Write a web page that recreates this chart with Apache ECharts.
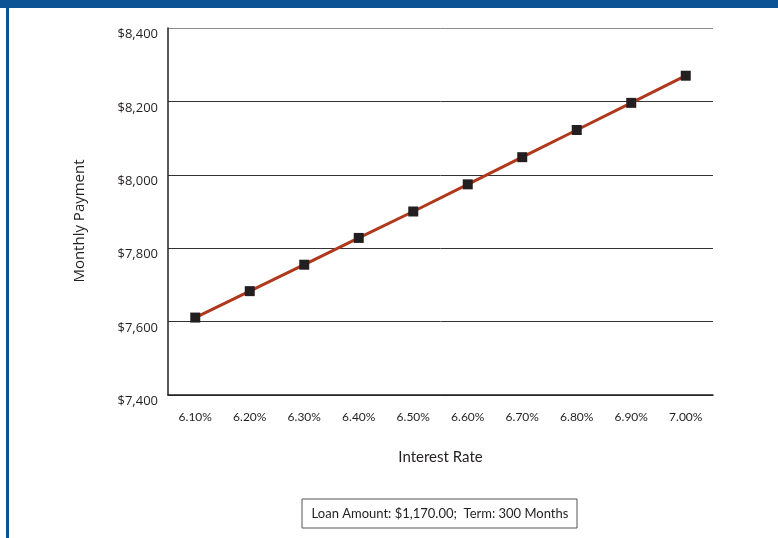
<!DOCTYPE html>
<html>
<head>
<meta charset="utf-8">
<script src="https://cdn.jsdelivr.net/npm/echarts@6/dist/echarts.min.js"></script>
<style>
  html, body { margin: 0; padding: 0; background: #fff; }
  #chart { width: 778px; height: 538px; }
</style>
</head>
<body>
<div id="chart"></div>
<script>
var rates = ['6.10%', '6.20%', '6.30%', '6.40%', '6.50%', '6.60%', '6.70%', '6.80%', '6.90%', '7.00%']
var payments = [7611, 7683, 7755, 7828, 7900, 7974, 8048, 8122, 8196, 8270]
var noteText = 'Loan Amount: $1,170.00;  Term: 300 Months'

var myChart = echarts.init(document.getElementById('chart'))

var option = {
  animation: false,
  grid: {
    left: 168,
    top: 28,
    right: 65,
    bottom: 143
  },
  xAxis: {
    type: 'category',
    data: rates,
    boundaryGap: true,
    name: 'Interest Rate',
    nameLocation: 'middle',
    nameGap: 55,
    nameTextStyle: {
      fontFamily: 'Lato',
      fontSize: 15,
      color: '#231f20'
    },
    axisLine: {
      lineStyle: { color: '#231f20', width: 1.5 }
    },
    axisTick: {
      inside: true,
      length: 10,
      lineStyle: { color: '#555', width: 1 }
    },
    axisLabel: {
      margin: 16,
      fontFamily: 'Lato',
      fontSize: 12,
      color: '#231f20'
    }
  },
  yAxis: {
    type: 'value',
    min: 7400,
    max: 8400,
    interval: 200,
    axisLine: {
      show: true,
      lineStyle: { color: '#231f20', width: 1.5 }
    },
    axisTick: { show: false },
    axisLabel: {
      margin: 10,
      fontFamily: 'Open Sans',
      fontSize: 13,
      color: '#231f20',
      verticalAlign: 'top',
      formatter: function (v) {
        return '$' + v.toLocaleString('en-US')
      }
    },
    splitLine: {
      show: true,
      lineStyle: {
        color: ['#333', '#333', '#333', '#333', '#333', '#8c8c8c'],
        width: 1
      }
    }
  },
  series: [
    {
      type: 'line',
      data: payments,
      symbol: 'rect',
      symbolSize: 10,
      lineStyle: { color: '#b0381c', width: 3 },
      itemStyle: { color: '#231f20' },
      z: 5
    }
  ],
  graphic: [
    {
      type: 'rect',
      left: 0,
      top: 0,
      shape: { width: 778, height: 8 },
      style: { fill: '#0b5394' }
    },
    {
      type: 'rect',
      left: 6,
      top: 0,
      shape: { width: 3, height: 538 },
      style: { fill: '#0b5394' }
    },
    {
      type: 'text',
      x: 80,
      y: 221,
      rotation: Math.PI / 2,
      style: {
        text: 'Monthly Payment',
        align: 'center',
        verticalAlign: 'middle',
        fontFamily: 'Open Sans',
        fontSize: 15,
        fill: '#231f20'
      }
    },
    {
      type: 'rect',
      x: 302,
      y: 499,
      shape: { width: 275, height: 29 },
      style: { fill: '#fff', stroke: '#555', lineWidth: 1 }
    },
    {
      type: 'text',
      x: 440,
      y: 514,
      style: {
        text: noteText,
        align: 'center',
        verticalAlign: 'middle',
        fontFamily: 'Lato',
        fontSize: 13,
        fill: '#231f20'
      }
    }
  ]
}

myChart.setOption(option)
</script>
</body>
</html>
